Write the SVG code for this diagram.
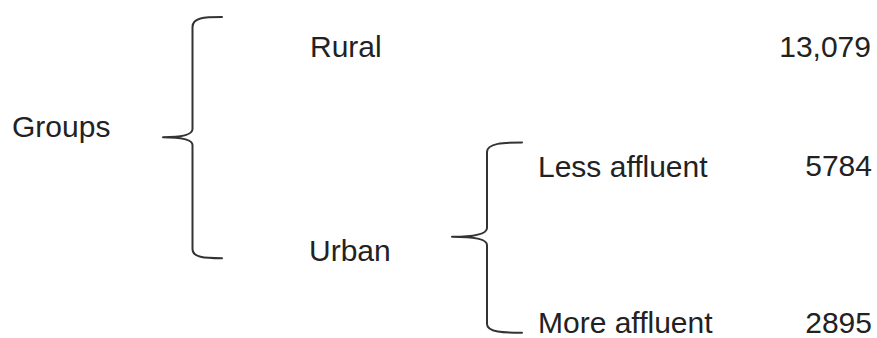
<svg xmlns="http://www.w3.org/2000/svg" width="877" height="338" viewBox="0 0 877 338">
<style>
.t{font-family:"Liberation Sans",Arial,sans-serif;font-size:30px;fill:#222}
.n{text-anchor:end}
.b{fill:none;stroke:#333;stroke-width:2;stroke-linecap:round;stroke-linejoin:round}
</style>
<rect width="877" height="338" fill="#fff"/>
<g id="connectors">
<path class="b" d="M222,17 C204,17 192.5,17.5 192.5,27 L192.5,129 C192.5,135 181,137.2 163,137.2 C181,137.2 192.5,139.5 192.5,145 L192.5,249 C192.5,257.5 204,258.3 222,258.3"/>
<path class="b" d="M522,142.5 C504,142.5 487,143 487,152 L487,228 C487,234 475,236.8 452,236.8 C475,236.8 487,239.5 487,245 L487,324 C487,332.5 504,332.8 522,332.8"/>
</g>
<g id="groups"><text class="t" x="12" y="137">Groups</text></g>
<g id="rural"><text class="t" x="310" y="57">Rural</text></g>
<g id="rural-value"><text class="t n" x="871" y="57">13,079</text></g>
<g id="urban"><text class="t" x="309" y="261">Urban</text></g>
<g id="less-affluent"><text class="t" x="538" y="177">Less affluent</text></g>
<g id="less-affluent-value"><text class="t n" x="872" y="176">5784</text></g>
<g id="more-affluent"><text class="t" x="538" y="333">More affluent</text></g>
<g id="more-affluent-value"><text class="t n" x="872" y="333">2895</text></g>
</svg>
